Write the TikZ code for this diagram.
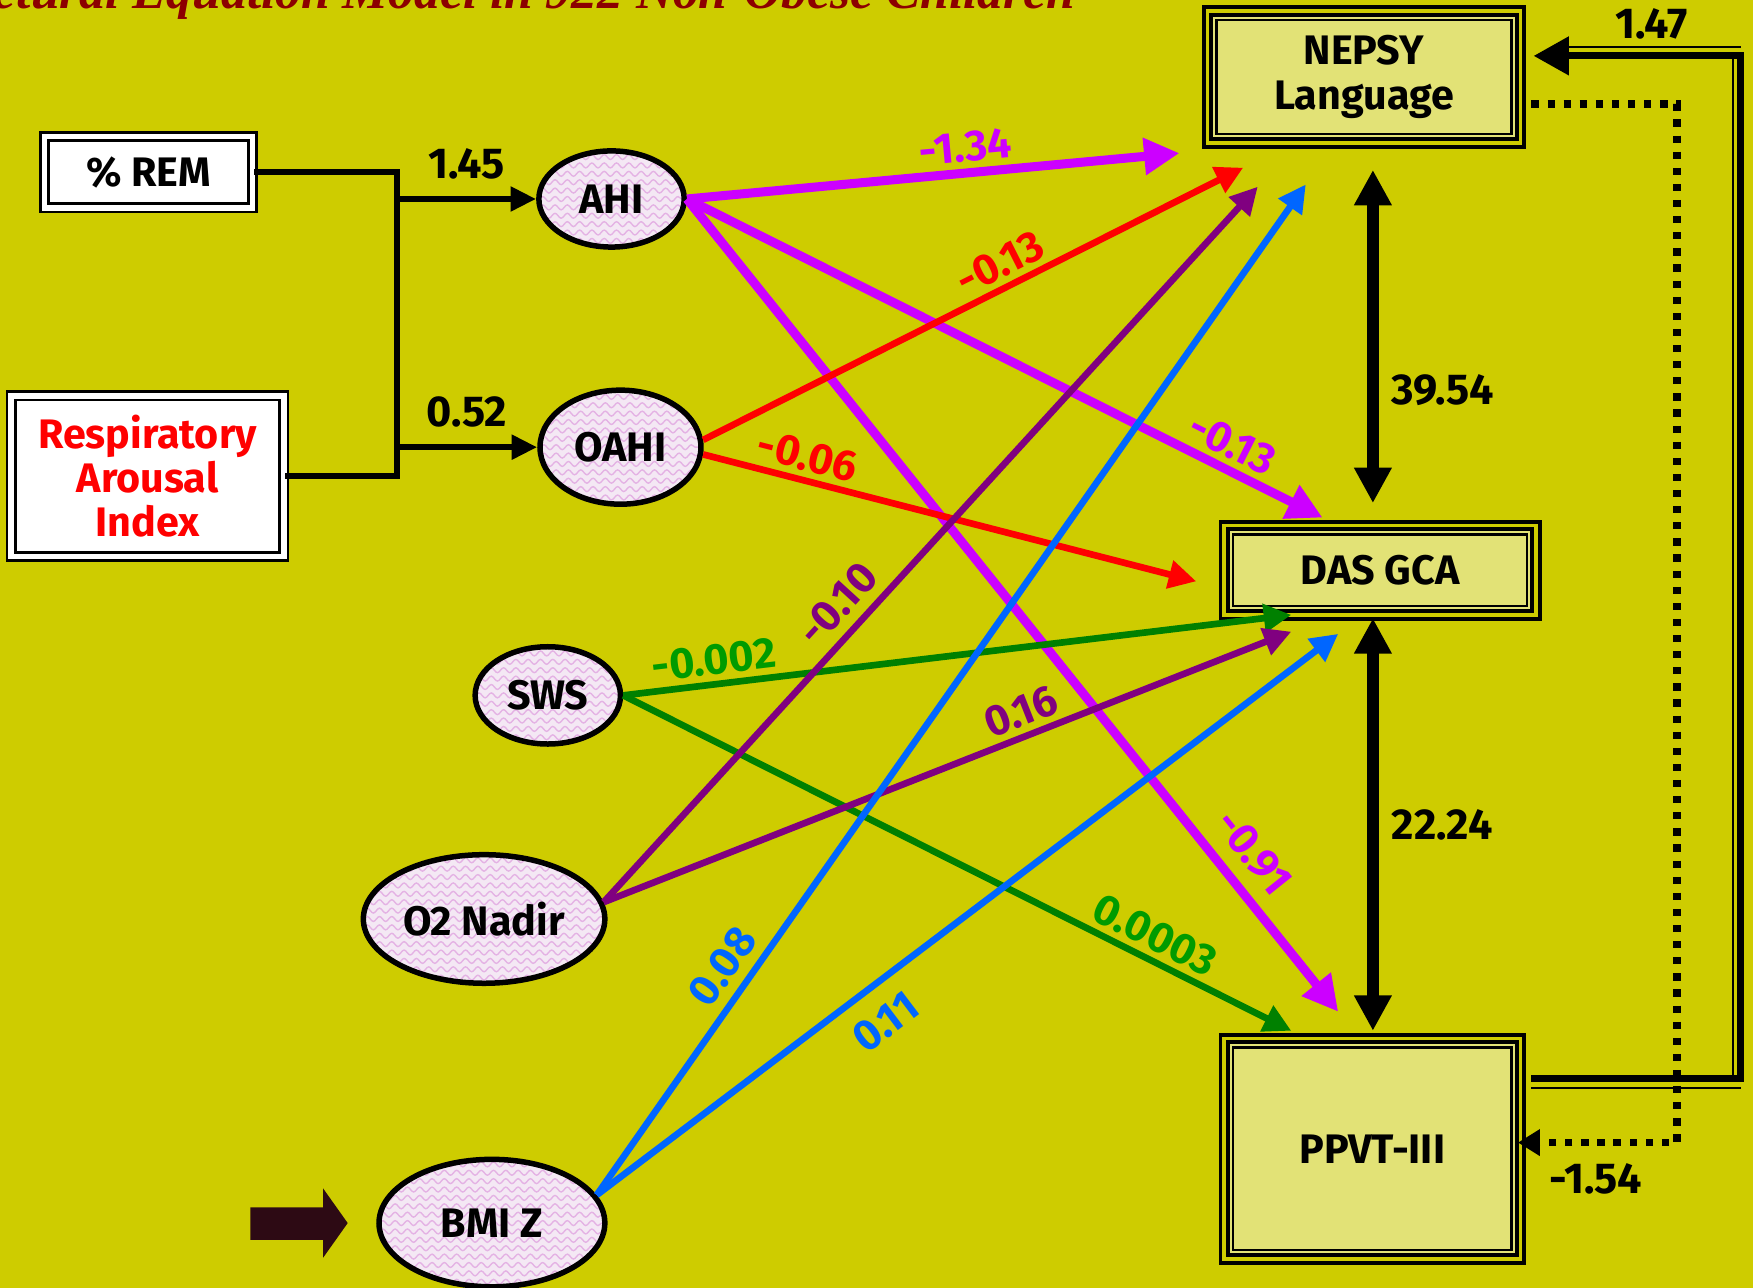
\documentclass[tikz,border=0pt]{standalone}
\usepackage{fontspec}
\setmainfont{Fira Sans}
\newfontfamily\titlefont{Liberation Serif}
\usetikzlibrary{positioning, shapes.geometric, arrows.meta, calc, decorations.pathmorphing}

\definecolor{slide}{RGB}{206,204,0}
\definecolor{boxfill}{RGB}{226,226,118}
\definecolor{ovalfill}{RGB}{244,232,244}
\definecolor{wavepink}{RGB}{228,178,228}
\definecolor{pathpink}{RGB}{204,0,255}
\definecolor{pathred}{RGB}{255,0,0}
\definecolor{pathgreen}{RGB}{0,128,0}
\definecolor{labgreen}{RGB}{0,155,0}
\definecolor{pathpurple}{RGB}{128,0,128}
\definecolor{pathblue}{RGB}{0,102,255}
\definecolor{titlered}{RGB}{140,0,0}
\definecolor{pointer}{RGB}{45,10,20}

\begin{document}
\begin{tikzpicture}[
    font=\fontsize{10.5}{12.5}\selectfont,
    latent/.style={ellipse, draw, line width=1.4pt, fill=ovalfill, inner sep=0pt,
        font=\fontsize{10.5}{12.5}\selectfont\bfseries,
        path picture={
            \foreach \k in {-10,...,10}
                \draw[wavepink, line width=0.35pt, decorate, decoration={snake, amplitude=0.22mm, segment length=1.1mm}]
                    ([yshift=\k*0.075cm]path picture bounding box.west) -- ([yshift=\k*0.075cm]path picture bounding box.east);
        }},
    measure/.style={rectangle, draw, line width=0.7pt, double=white, double distance=1.4pt,
        fill=white, inner sep=0pt, align=center, font=\fontsize{10.5}{11.2}\selectfont\bfseries},
    outcome/.style={rectangle, draw, line width=1pt, double=slide, double distance=0.9pt,
        fill=boxfill, inner sep=0pt, align=center, font=\fontsize{10.5}{11.4}\selectfont\bfseries},
    effect/.style={line width=1.7pt, -{Triangle[length=7pt, width=7pt]}},
    strong/.style={line width=2.3pt, -{Triangle[length=9pt, width=9pt]}},
    coef/.style={font=\fontsize{11}{13}\selectfont\bfseries, sloped, inner sep=1.5pt},
    estimate/.style={font=\fontsize{11}{13}\selectfont\bfseries}
]

% Slide background
\useasboundingbox (0,0) rectangle (15.68,11.52);
\fill[slide] (0,0) rectangle (15.68,11.52);

% Title, running off the top edge
\begin{scope}
\clip (0,0) rectangle (15.68,11.52);
\node[anchor=base east, font=\titlefont\bfseries\itshape\fontsize{13.1}{14}\selectfont, text=titlered]
    (title) at (9.74,11.445) {Structural Equation Model in 922 Non-Obese Children};
\end{scope}

% Predictors
\node[measure, minimum width=1.86cm, minimum height=0.64cm] (rem) at (1.33,9.98) {\% REM};
\node[measure, minimum width=2.44cm, minimum height=1.44cm, text=red] (rai) at (1.32,7.26)
    {Respiratory\\Arousal\\Index};

% Sleep and body measures
\node[latent, minimum width=1.30cm, minimum height=0.86cm] (ahi) at (5.47,9.74) {AHI};
\node[latent, minimum width=1.44cm, minimum height=1.02cm] (oahi) at (5.55,7.52) {OAHI};
\node[latent, minimum width=1.30cm, minimum height=0.87cm] (sws) at (4.90,5.30) {SWS};
\node[latent, minimum width=2.16cm, minimum height=1.15cm] (nadir) at (4.33,3.30) {O2 Nadir};
\node[latent, minimum width=2.02cm, minimum height=1.14cm] (bmi) at (4.40,0.58) {BMI Z};

% Outcomes
\node[outcome, minimum width=2.80cm, minimum height=1.18cm] (nepsy) at (12.20,10.83) {NEPSY\\Language};
\node[outcome, minimum width=2.79cm, minimum height=0.80cm] (das) at (12.345,6.42) {DAS GCA};
\node[outcome, minimum width=2.65cm, minimum height=1.97cm] (ppvt) at (12.275,1.245) {PPVT-III};
\foreach \n in {nepsy, das, ppvt}
    \draw[line width=0.6pt] ([shift={(2.8pt,2.8pt)}]\n.south west) rectangle ([shift={(-2.8pt,-2.8pt)}]\n.north east);

% Pointer arrow next to BMI Z
\fill[pointer] (2.24,0.43) -- (2.89,0.43) -- (2.89,0.27) -- (3.11,0.58) -- (2.89,0.89) -- (2.89,0.72) -- (2.24,0.72) -- cycle;

% Bracket from the two predictors
\coordinate (jtop) at (3.55,9.98);
\coordinate (jbot) at (3.55,7.26);
\draw[line width=1.6pt] (rem.east) -- (jtop) -- (jbot) -- (rai.east);
\draw[line width=1.6pt, -{Triangle[length=6.5pt, width=6pt]}] (jtop |- ahi.west) -- (ahi.west)
    node[midway, above=1pt, estimate] {1.45};
\draw[line width=1.6pt, -{Triangle[length=6.5pt, width=6pt]}] (jtop |- oahi.west) -- (oahi.west)
    node[midway, above=1pt, estimate] {0.52};

% Arrow ends near the outcomes
\coordinate (np1) at (10.55,10.15);
\coordinate (np2) at (11.12,10.02);
\coordinate (np3) at (11.25,9.85);
\coordinate (np4) at (11.68,9.87);
\coordinate (ds1) at (11.83,6.89);
\coordinate (ds2) at (10.70,6.32);
\coordinate (ds3) at (11.55,6.02);
\coordinate (ds4) at (11.55,5.87);
\coordinate (ds5) at (11.97,5.85);
\coordinate (pp1) at (11.97,2.47);
\coordinate (pp2) at (11.55,2.30);

% AHI
\draw[strong, pathpink] (ahi.east) -- (np1) node[coef, pos=0.57, above, text=pathpink] {-1.34};
\draw[strong, pathpink] (ahi.east) -- (ds1) node[coef, pos=0.84, above, text=pathpink] {-0.13};
\draw[strong, pathpink] (ahi.east) -- (pp1) node[coef, pos=0.83, above=2pt, text=pathpink] {-0.91};

% OAHI
\draw[effect, pathred] (oahi.5) -- (np2) node[coef, pos=0.57, above, text=pathred] {-0.13};
\draw[effect, pathred] (oahi.-5) -- (ds2) node[coef, pos=0.20, above, text=pathred] {-0.06};

% SWS
\draw[effect, pathgreen] (sws.east) -- (ds3) node[coef, pos=0.14, above, text=labgreen] {-0.002};
\draw[effect, pathgreen] (sws.east) -- (pp2) node[coef, pos=0.78, above, text=labgreen] {0.0003};

% O2 Nadir
\draw[effect, pathpurple] (nadir.8) -- (np3) node[coef, pos=0.39, above=1pt, text=pathpurple] {-0.10};
\draw[effect, pathpurple] (nadir.8) -- (ds4) node[coef, pos=0.62, above, text=pathpurple] {0.16};

% BMI Z
\draw[effect, pathblue] (bmi.15) -- (np4) node[coef, pos=0.21, above=1pt, text=pathblue] {0.08};
\draw[effect, pathblue] (bmi.15) -- (ds5) node[coef, pos=0.36, below=3pt, text=pathblue] {0.11};

% Outcome covariances
\coordinate (c1a) at (12.28,10.00);
\coordinate (c1b) at (12.28,7.02);
\coordinate (c2a) at (12.28,5.99);
\coordinate (c2b) at (12.28,2.30);
\draw[line width=3pt, {Triangle[length=9pt, width=9pt]}-{Triangle[length=9pt, width=9pt]}] (c1a) -- (c1b)
    node[pos=0.66, right=0pt, estimate] {39.54};
\draw[line width=3pt, {Triangle[length=9pt, width=9pt]}-{Triangle[length=9pt, width=9pt]}] (c2a) -- (c2b)
    node[pos=0.5, right=0pt, estimate] {22.24};

% Return paths on the right
\coordinate (rb) at (15.57,1.87);
\coordinate (rt) at (15.57,11.02);
\draw[line width=1.8pt, -{Triangle[length=9pt, width=9.5pt]}]
    ($(ppvt.east |- rb)+(0.08,0)$) -- (rb) -- (rt) -- ($(nepsy.east |- rt)+(0.1,0)$)
    node[pos=0.43, above=0pt, estimate] {1.47};
\draw[line width=0.5pt] ($(ppvt.east |- rb)+(0.08,-0.08)$) -- ($(rb)+(0,-0.08)$);
\draw[line width=0.5pt] ($(rb)+(-0.07,0)$) -- ($(rt)+(-0.07,0)$);
\draw[line width=0.5pt] ($(rt)+(0,0.08)$) -- ($(nepsy.east |- rt)+(0.41,0.08)$);

\coordinate (dt) at (15.00,10.59);
\coordinate (db) at (15.00,1.30);
\draw[line width=1.85pt, dash pattern=on 1.85pt off 2.25pt, -{Triangle[length=5.6pt, width=6.5pt]}]
    ($(nepsy.east |- dt)+(0.08,0)$) -- (dt) -- (db) -- ($(ppvt.east |- db)+(-0.04,0)$)
    node[pos=0.51, below=1pt, estimate] {-1.54};

\end{tikzpicture}
\end{document}
